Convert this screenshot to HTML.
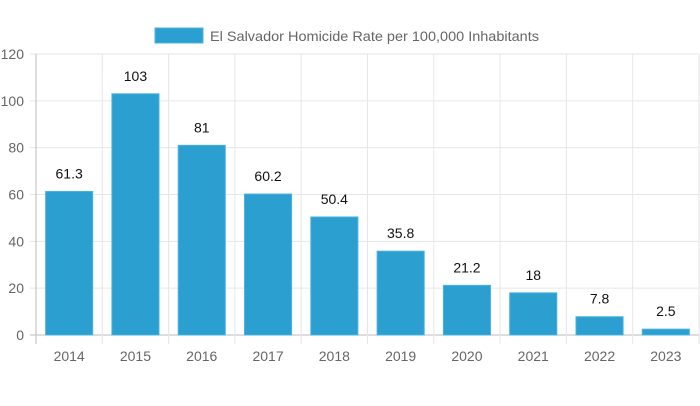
<!DOCTYPE html>
<html><head><meta charset="utf-8"><style>
html,body{margin:0;padding:0;background:#fff;}
svg{display:block;font-family:"Liberation Sans",sans-serif;}
</style></head><body>
<svg id="chart" width="700" height="406" viewBox="0 0 700 406">
<g id="grid"></g>
<g id="bars"></g>
<g id="labels"></g>
<g id="axes"></g>
<g>
<rect x="155" y="28" width="48" height="15" fill="#2a9fd0" stroke="#4ab3e0" stroke-width="1"/>
<text x="210" y="41" font-size="14" fill="#666" textLength="329" lengthAdjust="spacingAndGlyphs">El Salvador Homicide Rate per 100,000 Inhabitants</text>
</g>
</svg>
<script>
const categories=["2014","2015","2016","2017","2018","2019","2020","2021","2022","2023"];
const values=[61.3,103,81,60.2,50.4,35.8,21.2,18,7.8,2.5];
const valueLabels=["61.3","103","81","60.2","50.4","35.8","21.2","18","7.8","2.5"];
const yTicks=[0,20,40,60,80,100,120];
const NS="http://www.w3.org/2000/svg";
const plotLeft=36,plotRight=699,plotTop=54,plotBottom=335,yMax=120;
const step=(plotRight-plotLeft)/categories.length;
function yScale(v){return plotBottom-(v/yMax)*(plotBottom-plotTop);}
function xScale(i){return plotLeft+i*step;}
function mk(t,a,p){const e=document.createElementNS(NS,t);for(const k in a)e.setAttribute(k,a[k]);p.appendChild(e);return e;}
const grid=document.getElementById('grid'),bars=document.getElementById('bars'),labels=document.getElementById('labels'),axes=document.getElementById('axes');
yTicks.forEach(t=>{
 const l=mk('line',{x1:plotLeft-6,x2:plotRight,y1:yScale(t),y2:yScale(t),stroke:t===0?'#bbb':'#e6e6e6','stroke-width':1},grid);
 
 
 const tx=mk('text',{x:24,y:yScale(t)+5,'text-anchor':'end','font-size':14,fill:'#666'},axes);
 tx.textContent=t;
 
 
});
for(let i=0;i<=categories.length;i++){
 const l=mk('line',{x1:xScale(i),x2:xScale(i),y1:plotTop,y2:plotBottom+9,stroke:i===0?'#bbb':'#e6e6e6','stroke-width':1},grid);
 
 
}
categories.forEach((c,i)=>{
 const bw=step*0.71,bx=xScale(i)+(step-bw)/2;
 const r=mk('rect',{x:bx,y:yScale(values[i]),width:bw,height:plotBottom-yScale(values[i]),fill:'#2a9fd0',stroke:'#4ab3e0','stroke-width':1},bars);
 
 
 const vt=mk('text',{x:xScale(i)+step/2,y:yScale(values[i])-13,'text-anchor':'middle','font-size':14,fill:'#111'},labels);
 vt.textContent=valueLabels[i];
 
 
 const xt=mk('text',{x:xScale(i)+step/2,y:361,'text-anchor':'middle','font-size':14,fill:'#666'},axes);
 xt.textContent=c;
 
 
});
</script>
</body></html>
